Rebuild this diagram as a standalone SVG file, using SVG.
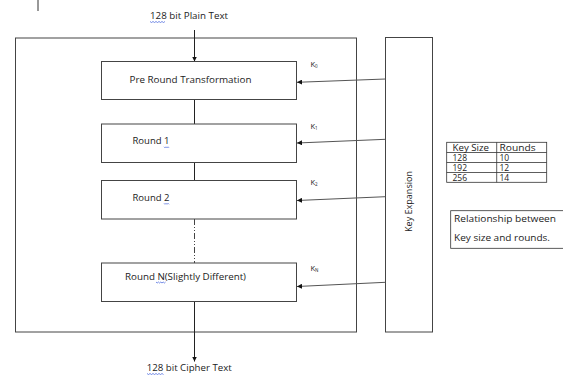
<svg xmlns="http://www.w3.org/2000/svg" width="563" height="375" viewBox="0 0 563 375">
<style>
  text { font-family: "Open Sans", "Liberation Sans", sans-serif; fill: #222; }
  .lbl { font-size: 9.5px; }
  .tt { font-size: 8.5px; }
  .k { font-size: 7.5px; }
  .sub { font-size: 4.5px; }
  .box { fill: #fff; stroke: #444; stroke-width: 1; }
  .ln { stroke: #222; stroke-width: 1; fill: none; }
  .kl { stroke: #555; stroke-width: 1; fill: none; }
  .sq { stroke: #3b5bdb; stroke-width: 0.7; fill: none; }
  .tb { fill: none; stroke: #333; stroke-width: 0.8; }
</style>
<defs>
  <marker id="ah" viewBox="0 0 10 10" refX="10" refY="5" markerWidth="5" markerHeight="5" orient="auto">
    <path d="M0,0 L10,5 L0,10 z" fill="#111"/>
  </marker>
</defs>
<rect width="563" height="375" fill="#fff"/>
<line x1="38" y1="0" x2="38" y2="11" stroke="#333" stroke-width="1"/>

<g id="outer">
  <rect x="15.5" y="38" width="341" height="294" class="box" fill="none"/>
</g>
<g id="keyexp">
  <rect x="385.5" y="37.5" width="47" height="294.5" class="box"/>
  <text class="lbl" transform="translate(411.5,201.5) rotate(-90)" text-anchor="middle" textLength="61" lengthAdjust="spacingAndGlyphs">Key Expansion</text>
</g>

<g id="connectors">
  <line x1="194.5" y1="30" x2="194.5" y2="61.5" class="ln" marker-end="url(#ah)"/>
  <line x1="194.5" y1="99.5" x2="194.5" y2="124" class="ln"/>
  <line x1="194.5" y1="162.5" x2="194.5" y2="180.5" class="ln"/>
  <line x1="194.5" y1="219" x2="194.5" y2="263" stroke="#444" stroke-width="1" stroke-dasharray="6,2,1,2,1,2"/>
  <line x1="194.5" y1="301.5" x2="194.5" y2="361.5" class="ln" marker-end="url(#ah)"/>
  <line x1="385.5" y1="79" x2="297" y2="82.3" class="kl" marker-end="url(#ah)"/>
  <line x1="385.5" y1="139.3" x2="297" y2="143" class="kl" marker-end="url(#ah)"/>
  <line x1="385.5" y1="196.7" x2="297" y2="200.5" class="kl" marker-end="url(#ah)"/>
  <line x1="385.5" y1="282.3" x2="297" y2="286.5" class="kl" marker-end="url(#ah)"/>
</g>

<g id="plaintext">
  <text class="lbl" x="150" y="18.5" textLength="78" lengthAdjust="spacingAndGlyphs">128 bit Plain Text</text>
  <path class="sq" d="M150,21.5 l1.5,1 l1.5,-1 l1.5,1 l1.5,-1 l1.5,1 l1.5,-1 l1.5,1 l1.5,-1 l1.5,1 l1.5,-1"/>
</g>
<g id="pre">
  <rect x="101.5" y="61.5" width="195" height="38" class="box"/>
  <text class="lbl" x="129.5" y="82.5" textLength="122" lengthAdjust="spacingAndGlyphs">Pre Round Transformation</text>
</g>
<g id="round1">
  <rect x="101.5" y="124" width="195" height="38.5" class="box"/>
  <text class="lbl" x="132.5" y="144" textLength="37" lengthAdjust="spacingAndGlyphs">Round 1</text>
  <path class="sq" d="M164,146.8 l1,1 l1,-1 l1,1 l1,-1 l1,1"/>
</g>
<g id="round2">
  <rect x="101.5" y="180.5" width="195" height="38.5" class="box"/>
  <text class="lbl" x="132.5" y="200.5" textLength="37" lengthAdjust="spacingAndGlyphs">Round 2</text>
  <path class="sq" d="M164,203.3 l1,1 l1,-1 l1,1 l1,-1 l1,1"/>
</g>
<g id="roundN">
  <rect x="101.5" y="263" width="195" height="38.5" class="box"/>
  <text class="lbl" x="125" y="279.5" textLength="121" lengthAdjust="spacingAndGlyphs">Round N(Slightly Different)</text>
  <path class="sq" d="M156,282 l1.2,1 l1.2,-1 l1.2,1 l1.2,-1 l1.2,1 l1.2,-1 l1.2,1 l1.2,-1"/>
</g>
<g id="ciphertext">
  <text class="lbl" x="146.7" y="371" textLength="85" lengthAdjust="spacingAndGlyphs">128 bit Cipher Text</text>
  <path class="sq" d="M147,373.5 l1.5,1 l1.5,-1 l1.5,1 l1.5,-1 l1.5,1 l1.5,-1 l1.5,1 l1.5,-1 l1.5,1 l1.5,-1 l1.5,1"/>
</g>

<g id="keys">
  <text class="k" x="310.5" y="67">K<tspan class="sub" dy="1">0</tspan></text>
  <text class="k" x="310.5" y="128.5">K<tspan class="sub" dy="1">1</tspan></text>
  <text class="k" x="310.5" y="184.5">K<tspan class="sub" dy="1">2</tspan></text>
  <text class="k" x="310.5" y="271">K<tspan class="sub" dy="1">N</tspan></text>
</g>

<g id="table">
  <rect x="446.7" y="142.3" width="100" height="40" class="tb"/>
  <line x1="496.7" y1="142.3" x2="496.7" y2="182.3" class="tb"/>
  <line x1="446.7" y1="152.5" x2="546.7" y2="152.5" class="tb"/>
  <line x1="446.7" y1="162.5" x2="546.7" y2="162.5" class="tb"/>
  <line x1="446.7" y1="172.5" x2="546.7" y2="172.5" class="tb"/>
  <text class="tt" x="452.5" y="150.5" textLength="36.5" lengthAdjust="spacingAndGlyphs">Key Size</text>
  <text class="tt" x="499.5" y="150.5" textLength="36" lengthAdjust="spacingAndGlyphs">Rounds</text>
  <text class="tt" x="452.5" y="160.5">128</text>
  <text class="tt" x="499.5" y="160.5">10</text>
  <text class="tt" x="452.5" y="170.5">192</text>
  <text class="tt" x="499.5" y="170.5">12</text>
  <text class="tt" x="452.5" y="180.5">256</text>
  <text class="tt" x="499.5" y="180.5">14</text>
</g>
<g id="relationship">
  <rect x="450.7" y="210.7" width="120" height="37.6" class="tb"/>
  <text class="lbl" x="454" y="222" textLength="102" lengthAdjust="spacingAndGlyphs">Relationship between</text>
  <text class="lbl" x="454" y="240.5" textLength="96" lengthAdjust="spacingAndGlyphs">Key size and rounds.</text>
</g>
</svg>
